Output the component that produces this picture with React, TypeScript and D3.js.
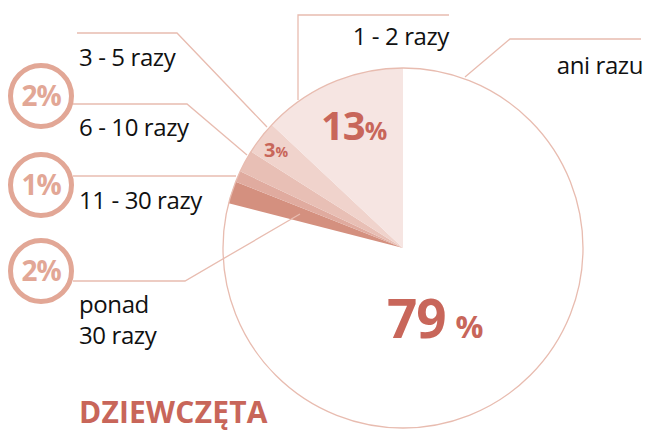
import React from "react";
import * as d3 from "d3";

const categories = ["ani razu", "ponad 30 razy", "11 - 30 razy", "6 - 10 razy", "3 - 5 razy", "1 - 2 razy"];
const values = [79, 2, 1, 2, 3, 13];
const colors = ["#ffffff", "#d4907f", "#e0ab9f", "#e8bfb5", "#f0d3cc", "#f6e5e2"];

const W = 647, H = 431;
const cx = 403, cy = 248, R = 180;
const lineColor = "#e8bcb0";
const red = "#c8665a";
const badge = "#e2a796";
const font = "'Open Sans', 'Noto Sans', sans-serif";

export default function App() {
  const pie = d3.pie<number>().sort(null).value((d) => d).startAngle(0).endAngle(2 * Math.PI);
  const arcs = pie(values);
  const arcGen = d3.arc<d3.PieArcDatum<number>>().innerRadius(0).outerRadius(R);

  const badges = [
    { cy: 96, text: "2%" },
    { cy: 185, text: "1%" },
    { cy: 271, text: "2%" },
  ];

  return (
    <svg width={W} height={H} style={{ position: "absolute", left: 0, top: 0 }} fontFamily={font}>
      <g transform={`translate(${cx},${cy})`}>
        {arcs.map((a, i) => (
          <path key={i} d={arcGen(a) || ""} fill={colors[i]} stroke="none" />
        ))}
        <circle r={R} fill="none" stroke={lineColor} strokeWidth={1.3} />
      </g>
      {/* leader lines */}
      <g fill="none" stroke={lineColor} strokeWidth={1.3}>
        <polyline points="298,100 298,15 449,15" />
        <polyline points="465,77 510,39 641,39" />
        <polyline points="77,33 177,33 267,127" />
        <polyline points="73,104 187,104 247,155" />
        <polyline points="73,176 236,176" />
        <polyline points="73,281 185,281 300,214" />
      </g>
      {/* badges */}
      {badges.map((b, i) => (
        <g key={i}>
          <circle cx={41} cy={b.cy} r={30.5} fill="#fff" stroke={badge} strokeWidth={5} />
          <text x={41} y={b.cy + 10} textAnchor="middle" fontSize={28} fontWeight={700} fill={badge} letterSpacing={-1.2}>
            {b.text}
          </text>
        </g>
      ))}
      {/* category labels */}
      <g fontSize={24} fill="#111" letterSpacing={-0.4}>
        <text x={79} y={66}>3 - 5 razy</text>
        <text x={79} y={136}>6 - 10 razy</text>
        <text x={79} y={209}>11 - 30 razy</text>
        <text x={79} y={313}>ponad</text>
        <text x={79} y={344}>30 razy</text>
        <text x={449} y={45} textAnchor="end">1 - 2 razy</text>
        <text x={643} y={74} textAnchor="end">ani razu</text>
      </g>
      {/* percentages */}
      <text x={321} y={140} fill={red} fontWeight={700} letterSpacing={-1}>
        <tspan fontSize={40}>13</tspan>
        <tspan fontSize={25}>%</tspan>
      </text>
      <text x={264} y={157} fill={red} fontWeight={700}>
        <tspan fontSize={20}>3</tspan>
        <tspan fontSize={14}>%</tspan>
      </text>
      <text x={387} y={338} fill={red} fontWeight={700}>
        <tspan fontSize={53} letterSpacing={-1}>79</tspan>
        <tspan fontSize={31} dx={10}>%</tspan>
      </text>
      <text x={79} y={423} fill={red} fontWeight={700} fontSize={30} letterSpacing={0.2}>DZIEWCZĘTA</text>
    </svg>
  );
}
